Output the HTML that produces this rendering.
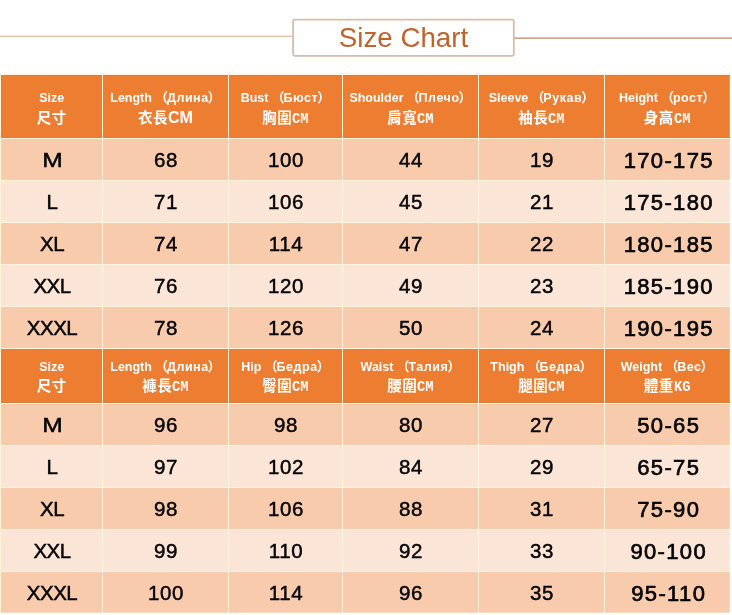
<!DOCTYPE html>
<html><head><meta charset="utf-8"><title>Size Chart</title>
<style>
html,body{margin:0;padding:0;background:#fff;}
body{width:732px;height:615px;position:relative;overflow:hidden;font-family:"Liberation Sans","Noto Sans CJK TC",sans-serif;}
svg.bg{position:absolute;left:0;top:0;}
.title{position:absolute;left:293px;top:20px;width:221px;height:36px;line-height:36px;text-align:center;color:#c0622a;font-size:27.7px;white-space:nowrap;}
.l1,.l2,.dc{position:absolute;text-align:center;white-space:nowrap;}
.l1{color:#fff;font-weight:bold;font-size:12.5px;line-height:20px;height:20px;}
.l1 .cyr{letter-spacing:0.55px;}
.l1 .pl{margin-left:3px;margin-right:-1px;}
.l1 .pr{margin-left:-1px;}
.l1 .pl,.l1 .pr{font-size:13px;font-weight:bold;}
.l2{color:#fff;font-size:14.5px;letter-spacing:0.5px;line-height:20px;height:20px;font-weight:bold;}
.l2.yh{font-weight:bold;}
.cmb{font-weight:bold;font-size:16px;letter-spacing:0;}
.cm{display:inline-block;letter-spacing:0;font-family:"Liberation Mono",monospace;font-weight:bold;font-size:15px;transform:scaleX(.92);transform-origin:0 50%;margin-right:-1.4px;}
.dc{color:#000;font-size:20.5px;-webkit-text-stroke:0.45px #000;letter-spacing:0.6px;}
.dc.ltr{letter-spacing:-0.5px;}
.dc.ltr b{display:inline-block;font-weight:normal;transform:scaleX(1.2);letter-spacing:0;}
.dc.big{font-size:22px;letter-spacing:1.35px;margin-top:1px;-webkit-text-stroke:0.65px #000;}
</style></head><body>
<svg class="bg" width="732" height="615" viewBox="0 0 732 615">
<rect x="0" y="73.2" width="732" height="1.6" fill="#fff6e0"/>
<rect x="0" y="35.7" width="293" height="1" fill="#e3a98c"/>
<rect x="514" y="37.5" width="218" height="1.2" fill="#b98259"/>
<rect x="293.1" y="19.7" width="220.7" height="36.1" rx="1.5" fill="#fff" stroke="#dcbba8" stroke-width="1.8"/>
<rect x="1" y="75" width="728.8" height="63.5" fill="#ed7d31"/>
<rect x="1" y="138.5" width="728.8" height="42" fill="#f8cbad"/>
<rect x="1" y="180.5" width="728.8" height="42" fill="#fbe5d6"/>
<rect x="1" y="222.5" width="728.8" height="42" fill="#f8cbad"/>
<rect x="1" y="264.5" width="728.8" height="42" fill="#fbe5d6"/>
<rect x="1" y="306.5" width="728.8" height="42" fill="#f8cbad"/>
<rect x="1" y="348.5" width="728.8" height="55" fill="#ed7d31"/>
<rect x="1" y="349" width="728.8" height="1.1" fill="#c98a4f"/>
<rect x="1" y="75" width="728.8" height="0.9" fill="#c4834c"/>
<rect x="0" y="75" width="1" height="537.7" fill="#fff3d6"/>
<rect x="1" y="403.5" width="728.8" height="42" fill="#f8cbad"/>
<rect x="1" y="445.5" width="728.8" height="42" fill="#fbe5d6"/>
<rect x="1" y="487.5" width="728.8" height="42" fill="#f8cbad"/>
<rect x="1" y="529.5" width="728.8" height="42" fill="#fbe5d6"/>
<rect x="1" y="571.5" width="728.8" height="41.2" fill="#f8cbad"/>
<rect x="1" y="138" width="728.8" height="1" fill="#fff5dd"/>
<rect x="1" y="180" width="728.8" height="1" fill="#fff5dd"/>
<rect x="1" y="222" width="728.8" height="1" fill="#fff5dd"/>
<rect x="1" y="264" width="728.8" height="1" fill="#fff5dd"/>
<rect x="1" y="306" width="728.8" height="1" fill="#fff5dd"/>
<rect x="1" y="348" width="728.8" height="1" fill="#fff5dd"/>
<rect x="1" y="403" width="728.8" height="1" fill="#fff5dd"/>
<rect x="1" y="445" width="728.8" height="1" fill="#fff5dd"/>
<rect x="1" y="487" width="728.8" height="1" fill="#fff5dd"/>
<rect x="1" y="529" width="728.8" height="1" fill="#fff5dd"/>
<rect x="1" y="571" width="728.8" height="1" fill="#fff5dd"/>
<rect x="1" y="137.2" width="728.8" height="0.8" fill="#d9803c"/>
<rect x="1" y="402.2" width="728.8" height="0.8" fill="#d0803e"/>
<rect x="102" y="75" width="1" height="537.7" fill="#fff5dd"/>
<rect x="228" y="75" width="1" height="537.7" fill="#fff5dd"/>
<rect x="342" y="75" width="1" height="537.7" fill="#fff5dd"/>
<rect x="478" y="75" width="1" height="537.7" fill="#fff5dd"/>
<rect x="604" y="75" width="1" height="537.7" fill="#fff5dd"/>
</svg>
<div class="title">Size Chart</div>
<div class="l1" style="left:1px;width:101.5px;top:87.7px"><span class="lat">Size</span></div>
<div class="l2 yh" style="left:1px;width:101.5px;top:107.6px">尺寸</div>
<div class="l1" style="left:102.5px;width:126px;top:87.7px"><span class="lat">Length</span><span class="pl">（</span><span class="cyr">Длина</span><span class="pr">）</span></div>
<div class="l2 yh" style="left:102.5px;width:126px;top:107.6px">衣長<span class="cmb">CM</span></div>
<div class="l1" style="left:228.5px;width:114px;top:87.7px"><span class="lat">Bust</span><span class="pl">（</span><span class="cyr">Бюст</span><span class="pr">）</span></div>
<div class="l2 ss" style="left:228.5px;width:114px;top:107.6px">胸圍<span class="cm">CM</span></div>
<div class="l1" style="left:342.5px;width:136px;top:87.7px"><span class="lat">Shoulder</span><span class="pl">（</span><span class="cyr">Плечо</span><span class="pr">）</span></div>
<div class="l2 ss" style="left:342.5px;width:136px;top:107.6px">肩寬<span class="cm">CM</span></div>
<div class="l1" style="left:478.5px;width:126px;top:87.7px"><span class="lat">Sleeve</span><span class="pl">（</span><span class="cyr">Рукав</span><span class="pr">）</span></div>
<div class="l2 ss" style="left:478.5px;width:126px;top:107.6px">袖長<span class="cm">CM</span></div>
<div class="l1" style="left:604.5px;width:125.3px;top:87.7px"><span class="lat">Height</span><span class="pl">（</span><span class="cyr">рост</span><span class="pr">）</span></div>
<div class="l2 ss" style="left:604.5px;width:125.3px;top:107.6px">身高<span class="cm">CM</span></div>
<div class="dc ltr" style="left:1.3px;top:139.4px;width:101.5px;line-height:42px"><b>M</b></div>
<div class="dc" style="left:103.1px;top:139.4px;width:126px;line-height:42px">68</div>
<div class="dc" style="left:229.1px;top:139.4px;width:114px;line-height:42px">100</div>
<div class="dc" style="left:343.1px;top:139.4px;width:136px;line-height:42px">44</div>
<div class="dc" style="left:479.1px;top:139.4px;width:126px;line-height:42px">19</div>
<div class="dc big" style="left:606.1px;top:139.4px;width:125.3px;line-height:42px">170-175</div>
<div class="dc ltr" style="left:1.3px;top:181.4px;width:101.5px;line-height:42px">L</div>
<div class="dc" style="left:103.1px;top:181.4px;width:126px;line-height:42px">71</div>
<div class="dc" style="left:229.1px;top:181.4px;width:114px;line-height:42px">106</div>
<div class="dc" style="left:343.1px;top:181.4px;width:136px;line-height:42px">45</div>
<div class="dc" style="left:479.1px;top:181.4px;width:126px;line-height:42px">21</div>
<div class="dc big" style="left:606.1px;top:181.4px;width:125.3px;line-height:42px">175-180</div>
<div class="dc ltr" style="left:1.3px;top:223.4px;width:101.5px;line-height:42px">XL</div>
<div class="dc" style="left:103.1px;top:223.4px;width:126px;line-height:42px">74</div>
<div class="dc" style="left:229.1px;top:223.4px;width:114px;line-height:42px">114</div>
<div class="dc" style="left:343.1px;top:223.4px;width:136px;line-height:42px">47</div>
<div class="dc" style="left:479.1px;top:223.4px;width:126px;line-height:42px">22</div>
<div class="dc big" style="left:606.1px;top:223.4px;width:125.3px;line-height:42px">180-185</div>
<div class="dc ltr" style="left:1.3px;top:265.4px;width:101.5px;line-height:42px">XXL</div>
<div class="dc" style="left:103.1px;top:265.4px;width:126px;line-height:42px">76</div>
<div class="dc" style="left:229.1px;top:265.4px;width:114px;line-height:42px">120</div>
<div class="dc" style="left:343.1px;top:265.4px;width:136px;line-height:42px">49</div>
<div class="dc" style="left:479.1px;top:265.4px;width:126px;line-height:42px">23</div>
<div class="dc big" style="left:606.1px;top:265.4px;width:125.3px;line-height:42px">185-190</div>
<div class="dc ltr" style="left:1.3px;top:307.4px;width:101.5px;line-height:42px">XXXL</div>
<div class="dc" style="left:103.1px;top:307.4px;width:126px;line-height:42px">78</div>
<div class="dc" style="left:229.1px;top:307.4px;width:114px;line-height:42px">126</div>
<div class="dc" style="left:343.1px;top:307.4px;width:136px;line-height:42px">50</div>
<div class="dc" style="left:479.1px;top:307.4px;width:126px;line-height:42px">24</div>
<div class="dc big" style="left:606.1px;top:307.4px;width:125.3px;line-height:42px">190-195</div>
<div class="l1" style="left:1px;width:101.5px;top:356.8px"><span class="lat">Size</span></div>
<div class="l2 yh" style="left:1px;width:101.5px;top:375.6px">尺寸</div>
<div class="l1" style="left:102.5px;width:126px;top:356.8px"><span class="lat">Length</span><span class="pl">（</span><span class="cyr">Длина</span><span class="pr">）</span></div>
<div class="l2 ss" style="left:102.5px;width:126px;top:375.6px">褲長<span class="cm">CM</span></div>
<div class="l1" style="left:228.5px;width:114px;top:356.8px"><span class="lat">Hip</span><span class="pl">（</span><span class="cyr">Бедра</span><span class="pr">）</span></div>
<div class="l2 ss" style="left:228.5px;width:114px;top:375.6px">臀圍<span class="cm">CM</span></div>
<div class="l1" style="left:342.5px;width:136px;top:356.8px"><span class="lat">Waist</span><span class="pl">（</span><span class="cyr">Талия</span><span class="pr">）</span></div>
<div class="l2 ss" style="left:342.5px;width:136px;top:375.6px">腰圍<span class="cm">CM</span></div>
<div class="l1" style="left:478.5px;width:126px;top:356.8px"><span class="lat">Thigh</span><span class="pl">（</span><span class="cyr">Бедра</span><span class="pr">）</span></div>
<div class="l2 ss" style="left:478.5px;width:126px;top:375.6px">腿圍<span class="cm">CM</span></div>
<div class="l1" style="left:604.5px;width:125.3px;top:356.8px"><span class="lat">Weight</span><span class="pl">（</span><span class="cyr">Вес</span><span class="pr">）</span></div>
<div class="l2 ss" style="left:604.5px;width:125.3px;top:375.6px">體重<span class="cm">KG</span></div>
<div class="dc ltr" style="left:1.3px;top:404.4px;width:101.5px;line-height:42px"><b>M</b></div>
<div class="dc" style="left:103.1px;top:404.4px;width:126px;line-height:42px">96</div>
<div class="dc" style="left:229.1px;top:404.4px;width:114px;line-height:42px">98</div>
<div class="dc" style="left:343.1px;top:404.4px;width:136px;line-height:42px">80</div>
<div class="dc" style="left:479.1px;top:404.4px;width:126px;line-height:42px">27</div>
<div class="dc big" style="left:606.1px;top:404.4px;width:125.3px;line-height:42px">50-65</div>
<div class="dc ltr" style="left:1.3px;top:446.4px;width:101.5px;line-height:42px">L</div>
<div class="dc" style="left:103.1px;top:446.4px;width:126px;line-height:42px">97</div>
<div class="dc" style="left:229.1px;top:446.4px;width:114px;line-height:42px">102</div>
<div class="dc" style="left:343.1px;top:446.4px;width:136px;line-height:42px">84</div>
<div class="dc" style="left:479.1px;top:446.4px;width:126px;line-height:42px">29</div>
<div class="dc big" style="left:606.1px;top:446.4px;width:125.3px;line-height:42px">65-75</div>
<div class="dc ltr" style="left:1.3px;top:488.4px;width:101.5px;line-height:42px">XL</div>
<div class="dc" style="left:103.1px;top:488.4px;width:126px;line-height:42px">98</div>
<div class="dc" style="left:229.1px;top:488.4px;width:114px;line-height:42px">106</div>
<div class="dc" style="left:343.1px;top:488.4px;width:136px;line-height:42px">88</div>
<div class="dc" style="left:479.1px;top:488.4px;width:126px;line-height:42px">31</div>
<div class="dc big" style="left:606.1px;top:488.4px;width:125.3px;line-height:42px">75-90</div>
<div class="dc ltr" style="left:1.3px;top:530.4px;width:101.5px;line-height:42px">XXL</div>
<div class="dc" style="left:103.1px;top:530.4px;width:126px;line-height:42px">99</div>
<div class="dc" style="left:229.1px;top:530.4px;width:114px;line-height:42px">110</div>
<div class="dc" style="left:343.1px;top:530.4px;width:136px;line-height:42px">92</div>
<div class="dc" style="left:479.1px;top:530.4px;width:126px;line-height:42px">33</div>
<div class="dc big" style="left:606.1px;top:530.4px;width:125.3px;line-height:42px">90-100</div>
<div class="dc ltr" style="left:1.3px;top:572.4px;width:101.5px;line-height:41.2px">XXXL</div>
<div class="dc" style="left:103.1px;top:572.4px;width:126px;line-height:41.2px">100</div>
<div class="dc" style="left:229.1px;top:572.4px;width:114px;line-height:41.2px">114</div>
<div class="dc" style="left:343.1px;top:572.4px;width:136px;line-height:41.2px">96</div>
<div class="dc" style="left:479.1px;top:572.4px;width:126px;line-height:41.2px">35</div>
<div class="dc big" style="left:606.1px;top:572.4px;width:125.3px;line-height:41.2px">95-110</div>
</body></html>
